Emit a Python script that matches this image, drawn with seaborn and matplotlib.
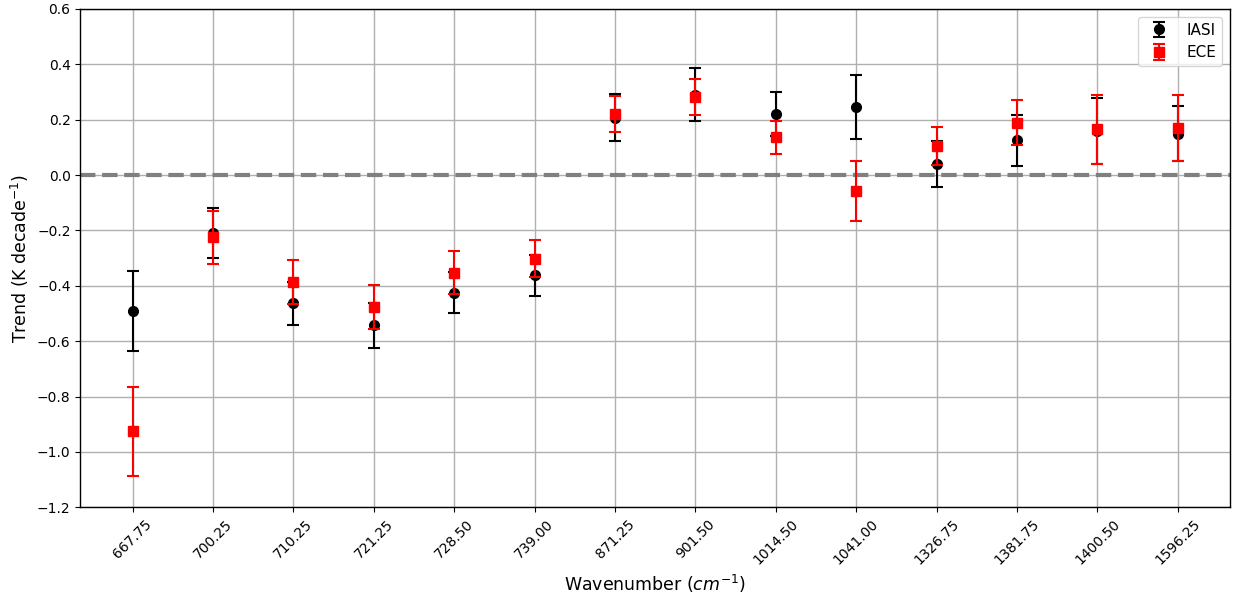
import matplotlib
matplotlib.use('Agg')
import matplotlib.pyplot as plt
import seaborn as sns
import numpy as np

wavenumbers = ['667.75', '700.25', '710.25', '721.25', '728.50', '739.00', '871.25',
               '901.50', '1014.50', '1041.00', '1326.75', '1381.75', '1400.50', '1596.25']
iasi_trend = [-0.49, -0.21, -0.463, -0.543, -0.424, -0.362, 0.207,
              0.29, 0.222, 0.245, 0.04, 0.125, 0.16, 0.15]
iasi_err = [0.145, 0.09, 0.077, 0.08, 0.073, 0.075, 0.085,
            0.096, 0.079, 0.115, 0.083, 0.093, 0.12, 0.10]
ece_trend = [-0.925, -0.225, -0.387, -0.477, -0.352, -0.302, 0.222,
             0.282, 0.137, -0.057, 0.105, 0.19, 0.165, 0.17]
ece_err = [0.16, 0.097, 0.079, 0.079, 0.079, 0.067, 0.065,
           0.065, 0.06, 0.107, 0.067, 0.08, 0.125, 0.12]

sns.set_style('ticks')
plt.rcParams['font.family'] = ['DejaVu Sans']
plt.rcParams['text.color'] = 'black'
plt.rcParams['axes.labelcolor'] = 'black'
plt.rcParams['xtick.color'] = 'black'
plt.rcParams['ytick.color'] = 'black'

fig, ax = plt.subplots(figsize=(12.35, 5.99), dpi=100)
x = np.arange(len(wavenumbers))

ax.errorbar(x, iasi_trend, yerr=iasi_err, fmt='o', color='black', ecolor='black',
            capsize=4, markersize=7, elinewidth=1.5, capthick=1.5, label='IASI', zorder=3)
ax.errorbar(x, ece_trend, yerr=ece_err, fmt='s', color='red', ecolor='red',
            capsize=4, markersize=7, elinewidth=1.5, capthick=1.5, label='ECE', zorder=4)
ax.axhline(0, color='grey', linestyle='--', linewidth=3, zorder=2)

ax.set_xticks(x)
ax.set_xticklabels(wavenumbers, rotation=45)
ax.set_ylim(-1.2, 0.6)
ax.set_yticks(np.arange(-1.2, 0.61, 0.2))
ax.grid(True, color='#b0b0b0', linewidth=1)
for s in ax.spines.values():
    s.set_linewidth(1)
    s.set_color('black')
ax.tick_params(labelsize=10)
ax.set_xlabel('Wavenumber ($cm^{-1}$)', fontsize=12.5)
ax.set_ylabel('Trend (K decade$^{-1}$)', fontsize=12.5)
ax.legend(loc='upper right', frameon=True, fontsize=11)

plt.subplots_adjust(left=0.065, right=0.996, top=0.985, bottom=0.153)
plt.savefig('out.png', dpi=100)
plt.close()
